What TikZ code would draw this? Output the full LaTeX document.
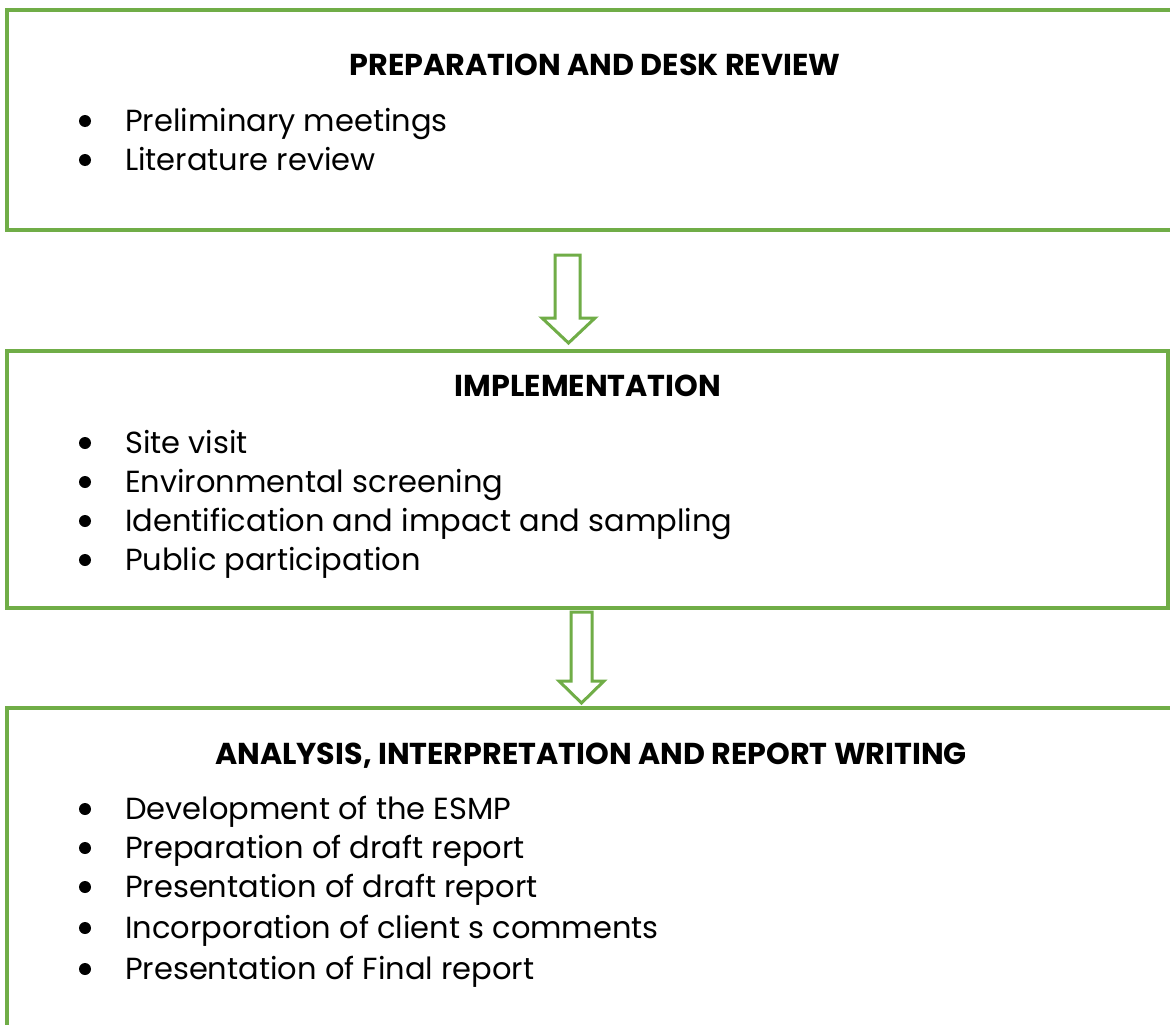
\documentclass[tikz,border=0pt]{standalone}
\usepackage{fontspec}
\setmainfont{Poppins}
\definecolor{leaf}{HTML}{70AD47}

\begin{document}
\begin{tikzpicture}[x=1pt,y=-1pt,
  stagebox/.style={draw=leaf, line width=3.3pt},
  headline/.style={anchor=base, inner sep=0pt, font=\fontsize{30.2}{30.2}\selectfont\bfseries},
  item/.style={anchor=base west, inner sep=0pt, font=\fontsize{30.5}{30.5}\selectfont},
  dot/.style={fill=black},
  flowarrow/.style={draw=leaf, line width=3pt, fill=white, line join=miter}]
\useasboundingbox (0,0) rectangle (1170,1025);
\fill[white] (0,0) rectangle (1170,1025);
\begin{scope}
\clip (0,0) rectangle (1170,1025);

% stage frames
\draw[stagebox] (7,10) rectangle (1180,230);
\draw[stagebox] (7,351) rectangle (1168,608);
\draw[stagebox] (7,708) rectangle (1180,1040);

% stage 1
\node[headline] (t1) at (595,75) {PREPARATION AND DESK REVIEW};
\node[item] (a1) at (125,131) {Preliminary meetings};
\node[item] (a2) at (125,170) {Literature review};

% stage 2
\node[headline] (t2) at (588,396) {IMPLEMENTATION};
\node[item] (b1) at (125,453) {Site visit};
\node[item] (b2) at (125,492) {Environmental screening};
\node[item] (b3) at (125,531) {Identification and impact and sampling};
\node[item] (b4) at (125,570) {Public participation};

% stage 3
\node[headline] (t3) at (591,764) {ANALYSIS, INTERPRETATION AND REPORT WRITING};
\node[item] (c1) at (125,819) {Development of the ESMP};
\node[item] (c2) at (125,858) {Preparation of draft report};
\node[item] (c3) at (125,897) {Presentation of draft report};
\node[item] (c4) at (125,938) {Incorporation of client s comments};
\node[item] (c5) at (125,979) {Presentation of Final report};

% bullets
\foreach \yy in {121,160,443,482,521,560,809,848,887,928,969}
  \fill[dot] (85,\yy) circle (6);

% block arrows between stages
\draw[flowarrow] (555,255) -- (580,255) -- (580,318) -- (595,318) -- (568.5,343)
  -- (542,318) -- (555,318) -- cycle;
\draw[flowarrow] (571,612) -- (592,612) -- (592,681) -- (604,681) -- (581.5,703)
  -- (559,681) -- (571,681) -- cycle;
\end{scope}
\end{tikzpicture}
\end{document}
